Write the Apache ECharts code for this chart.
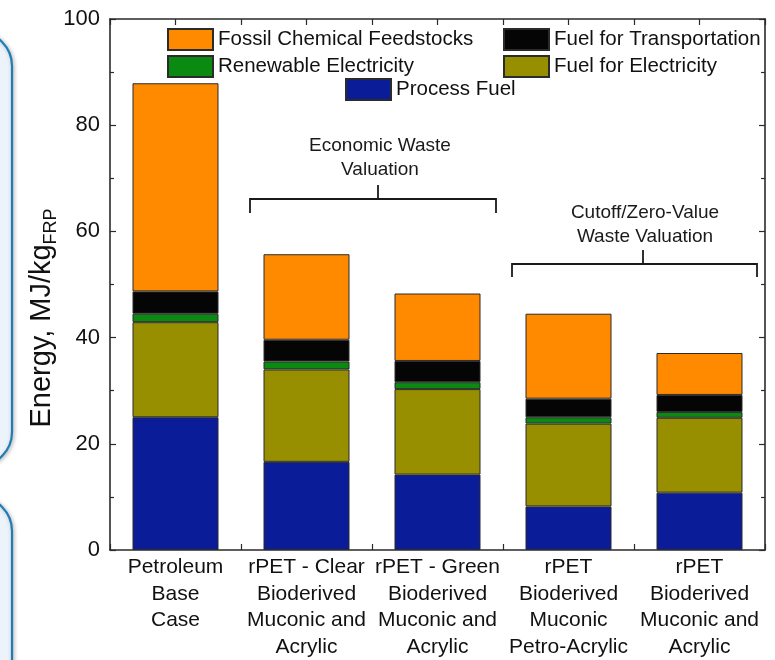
<!DOCTYPE html>
<html>
<head>
<meta charset="utf-8">
<script src="https://cdn.jsdelivr.net/npm/echarts@6/dist/echarts.min.js"></script>
<style>
  html, body { margin: 0; padding: 0; background: #ffffff; }
  #chart { width: 775px; height: 660px; }
</style>
</head>
<body>
<div id="chart"></div>
<script>
// Scenario categories (x axis)
const categories = [
  'Petroleum\nBase\nCase',
  'rPET - Clear\nBioderived\nMuconic and\nAcrylic',
  'rPET - Green\nBioderived\nMuconic and\nAcrylic',
  'rPET\nBioderived\nMuconic\nPetro-Acrylic',
  'rPET\nBioderived\nMuconic and\nAcrylic'
];

// Energy contributions, MJ/kg FRP (stacked bottom to top)
const processFuel       = [25.0, 16.6, 14.2, 8.2, 10.8];
const fuelElectricity   = [17.9, 17.4, 16.1, 15.6, 14.1];
const renewableElec     = [1.6, 1.5, 1.3, 1.2, 1.1];
const fuelTransport     = [4.2, 4.1, 4.0, 3.5, 3.2];
const fossilFeedstocks  = [39.2, 16.1, 12.7, 16.0, 7.9];

// Y axis range
const yMin = 0, yMax = 100, yStep = 20;

const FONT = '"Liberation Sans", Arial, Helvetica, sans-serif';
const AXIS = '#2a2a2a';

const chart = echarts.init(document.getElementById('chart'), null, { renderer: 'canvas' });

function barSeries(name, data, color) {
  return {
    name: name,
    type: 'bar',
    stack: 'energy',
    data: data,
    barWidth: 86,
    xAxisIndex: 0,
    yAxisIndex: 0,
    itemStyle: { color: color, borderColor: '#2b2b2b', borderWidth: 1 },
    emphasis: { disabled: true }
  };
}

function catAxis(position, showLabel, alignTicks) {
  return {
    type: 'category',
    position: position,
    offset: 0,
    data: categories,
    axisLine: { show: true, lineStyle: { color: AXIS, width: 1.6 } },
    axisTick: { show: true, inside: true, length: 6, alignWithLabel: alignTicks,
                lineStyle: { color: AXIS, width: 1.2 } },
    axisLabel: {
      show: showLabel,
      interval: 0,
      margin: 4,
      color: '#111111',
      fontFamily: FONT,
      fontSize: 21,
      lineHeight: 26.5,
      align: 'center',
      verticalAlign: 'top'
    },
    splitLine: { show: false }
  };
}

function valAxis(position, showLabel) {
  return {
    type: 'value',
    position: position,
    min: yMin,
    max: yMax,
    interval: yStep,
    axisLine: { show: true, lineStyle: { color: AXIS, width: 1.6 } },
    axisTick: { show: true, inside: true, length: 6, lineStyle: { color: AXIS, width: 1.2 } },
    minorTick: { show: true, splitNumber: 2, length: 4, lineStyle: { color: AXIS, width: 1.2 } },
    axisLabel: {
      show: showLabel,
      margin: 10,
      color: '#111111',
      fontFamily: FONT,
      fontSize: 22
    },
    splitLine: { show: false },
    minorSplitLine: { show: false }
  };
}

const legendText = { fontFamily: FONT, fontSize: 20.5, color: '#111111' };
const legendBase = {
  orient: 'vertical',
  itemWidth: 45,
  itemHeight: 21,
  itemGap: 4,
  icon: 'rect',
  textStyle: legendText,
  selectedMode: false,
  padding: 0
};

// Group annotation: bracket with a centre stem and a two-line caption
function bracket(x1, x2, xs, yLine, drop, stemTop, lines, textY) {
  const stroke = { stroke: '#1a1a1a', lineWidth: 1.8, fill: null };
  const els = [
    { type: 'polyline', shape: { points: [[x1, yLine + drop], [x1, yLine], [x2, yLine], [x2, yLine + drop]] }, style: stroke },
    { type: 'line', shape: { x1: xs, y1: yLine, x2: xs, y2: stemTop }, style: stroke }
  ];
  lines.forEach(function (t, i) {
    els.push({
      type: 'text',
      x: xs + 2,
      y: textY + i * 24,
      style: { text: t, fontFamily: FONT, fontSize: 19, fill: '#1a1a1a', align: 'center', verticalAlign: 'middle' }
    });
  });
  return els;
}

const graphics = [
  // rounded side panels at the left edge
  { type: 'rect', z: -10, shape: { x: -60, y: 32, width: 72, height: 434, r: 34 },
    style: { fill: '#edf3fb', stroke: '#1f7db3', lineWidth: 2.2, shadowBlur: 4, shadowColor: 'rgba(0,0,0,0.25)', shadowOffsetX: 1, shadowOffsetY: 1 } },
  { type: 'rect', z: -10, shape: { x: -60, y: 497, width: 72, height: 240, r: 34 },
    style: { fill: '#edf3fb', stroke: '#1f7db3', lineWidth: 2.2, shadowBlur: 4, shadowColor: 'rgba(0,0,0,0.25)', shadowOffsetX: 1, shadowOffsetY: 1 } },
  // y axis title with subscript
  { type: 'text', x: 42, y: 318, rotation: Math.PI / 2,
    style: {
      text: '{a|Energy, MJ/kg}{b|FRP}',
      align: 'center', verticalAlign: 'middle',
      rich: {
        a: { fontFamily: FONT, fontSize: 29, lineHeight: 36, fill: '#111111' },
        b: { fontFamily: FONT, fontSize: 18, lineHeight: 18, verticalAlign: 'bottom', fill: '#111111' }
      }
    } }
].concat(
  bracket(250, 496, 378, 199, 14, 185, ['Economic Waste', 'Valuation'], 146),
  bracket(512, 757, 643, 264, 13, 250, ['Cutoff/Zero-Value', 'Waste Valuation'], 213)
);

const option = {
  backgroundColor: '#ffffff',
  animation: false,
  grid: { left: 110, right: 10, top: 19, bottom: 107, containLabel: false, show: false },
  xAxis: [
    catAxis('bottom', true, false),
    Object.assign(catAxis('bottom', false, true), { axisLine: { show: false } }),
    catAxis('top', false, false),
    Object.assign(catAxis('top', false, true), { axisLine: { show: false } })
  ],
  yAxis: [valAxis('left', true), valAxis('right', false)],
  legend: [
    Object.assign({}, legendBase, { left: 167, top: 28, data: ['Fossil Chemical Feedstocks', 'Renewable Electricity'] }),
    Object.assign({}, legendBase, { left: 503, top: 28, data: ['Fuel for Transportation', 'Fuel for Electricity'] }),
    Object.assign({}, legendBase, { left: 345, top: 78, data: ['Process Fuel'] })
  ],
  series: [
    barSeries('Process Fuel', processFuel, '#0a1c97'),
    barSeries('Fuel for Electricity', fuelElectricity, '#978e00'),
    barSeries('Renewable Electricity', renewableElec, '#0b8a12'),
    barSeries('Fuel for Transportation', fuelTransport, '#050505'),
    barSeries('Fossil Chemical Feedstocks', fossilFeedstocks, '#ff8a00')
  ],
  graphic: graphics
};

chart.setOption(option);
</script>
</body>
</html>
